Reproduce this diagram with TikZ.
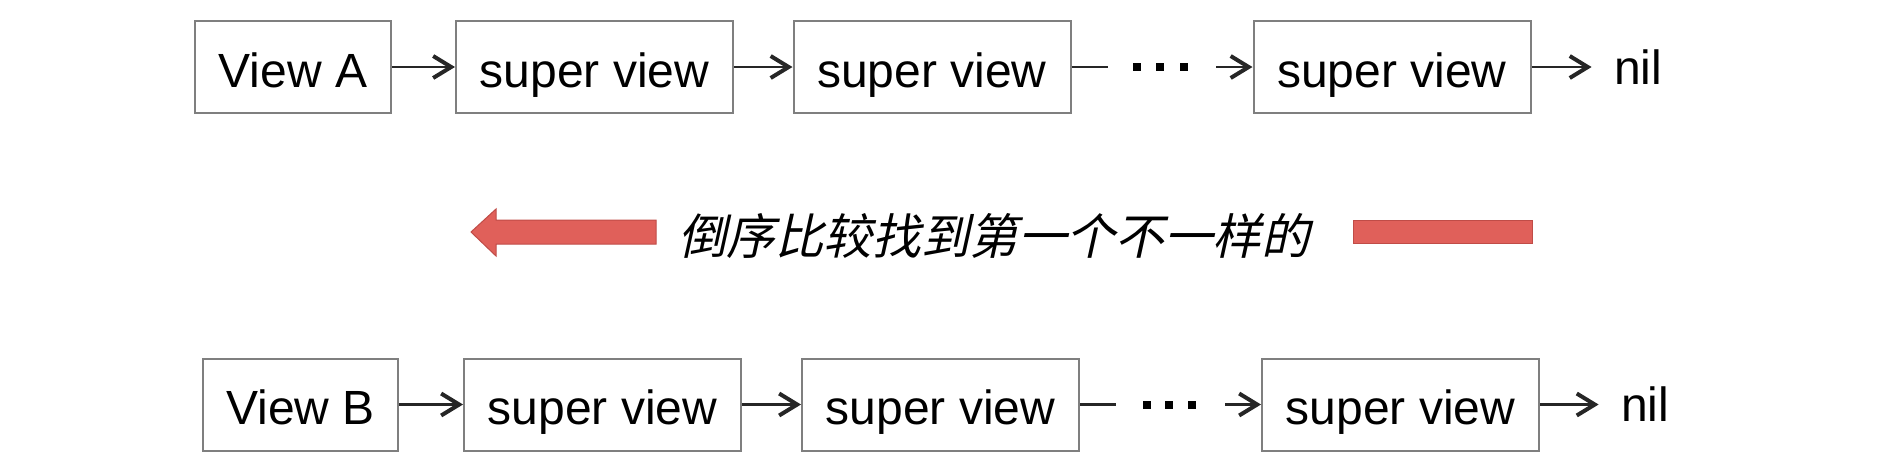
\documentclass[tikz,border=0pt]{standalone}
\usepackage{fontspec}
\setmainfont{Liberation Sans}
\newfontfamily\cjk[FakeSlant=0.22]{Noto Sans CJK SC}
\usetikzlibrary{arrows.meta}
\definecolor{boxgray}{HTML}{7F7F7F}
\definecolor{lineblk}{HTML}{262626}
\definecolor{redfill}{HTML}{E0605A}
\definecolor{redline}{HTML}{C04C47}
\begin{document}
\begin{tikzpicture}[x=0.5pt,y=-0.5pt,
  vbox/.style={draw=boxgray,line width=1pt,minimum height=46pt,inner sep=0pt,
    text height=21pt,text depth=1pt,
    font=\fontsize{24pt}{28pt}\selectfont,text=black},
  svbox/.style={vbox,minimum width=138.5pt},
  headbox/.style={vbox,minimum width=98pt},
  niltext/.style={font=\fontsize{24pt}{28pt}\selectfont,inner ysep=0pt,inner xsep=11pt,
    text height=18pt,text depth=1pt,text=black},
  link/.style={draw=lineblk,line width=1.1pt,-{Straight Barb[length=9pt,width=11pt,line width=2pt]}},
  plain/.style={draw=lineblk,line width=1.1pt},
  dotsq/.style={fill=black},
  redshape/.style={fill=redfill,draw=redline,line width=0.5pt}
]
\useasboundingbox (0,0) rectangle (1897,473);

% ---------- top row ----------
\node[headbox] (a0) at (293,67) {View A};
\node[svbox] (a1) at (594.5,67) {super view};
\node[svbox] (a2) at (932,67) {super view};
\node[svbox] (a3) at (1392,67) {super view};
\node[niltext] (anil) at (1638,67) {nil};
\coordinate (aend) at (1108,67);
\coordinate (astart) at (1216,67);
\draw[link] (a0) -- (a1);
\draw[link] (a1) -- (a2);
\draw[plain] (a2.east) -- (aend);
\fill[dotsq] (1133,63) rectangle (1141,71);
\fill[dotsq] (1156,63) rectangle (1164,71);
\fill[dotsq] (1180,63) rectangle (1188,71);
\draw[link] (astart) -- (a3.west);
\draw[link] (a3) -- (anil);

% ---------- middle ----------
\draw[redshape] (471,232) -- (496,209) -- (496,220) -- (656,220) -- (656,244)
  -- (496,244) -- (496,256) -- cycle;
\node[font=\cjk\fontsize{24.3pt}{28pt}\selectfont,inner sep=0pt,text=black] (msg) at (994,236)
  {倒序比较找到第一个不一样的};
\draw[redshape] (1353,220) rectangle (1532,243);

% ---------- bottom row ----------
\node[headbox,minimum width=97.5pt] (b0) at (300.5,404.5) {View B};
\node[svbox] (b1) at (602.5,404.5) {super view};
\node[svbox] (b2) at (940.5,404.5) {super view};
\node[svbox] (b3) at (1400.5,404.5) {super view};
\node[niltext] (bnil) at (1645,404.5) {nil};
\coordinate (bend) at (1116,404.5);
\coordinate (bstart) at (1225,404.5);
\draw[link] (b0) -- (b1);
\draw[link] (b1) -- (b2);
\draw[plain] (b2.east) -- (bend);
\fill[dotsq] (1143,400.5) rectangle (1151,408.5);
\fill[dotsq] (1165,400.5) rectangle (1173,408.5);
\fill[dotsq] (1188,400.5) rectangle (1196,408.5);
\draw[link] (bstart) -- (b3.west);
\draw[link] (b3) -- (bnil);
\end{tikzpicture}
\end{document}
